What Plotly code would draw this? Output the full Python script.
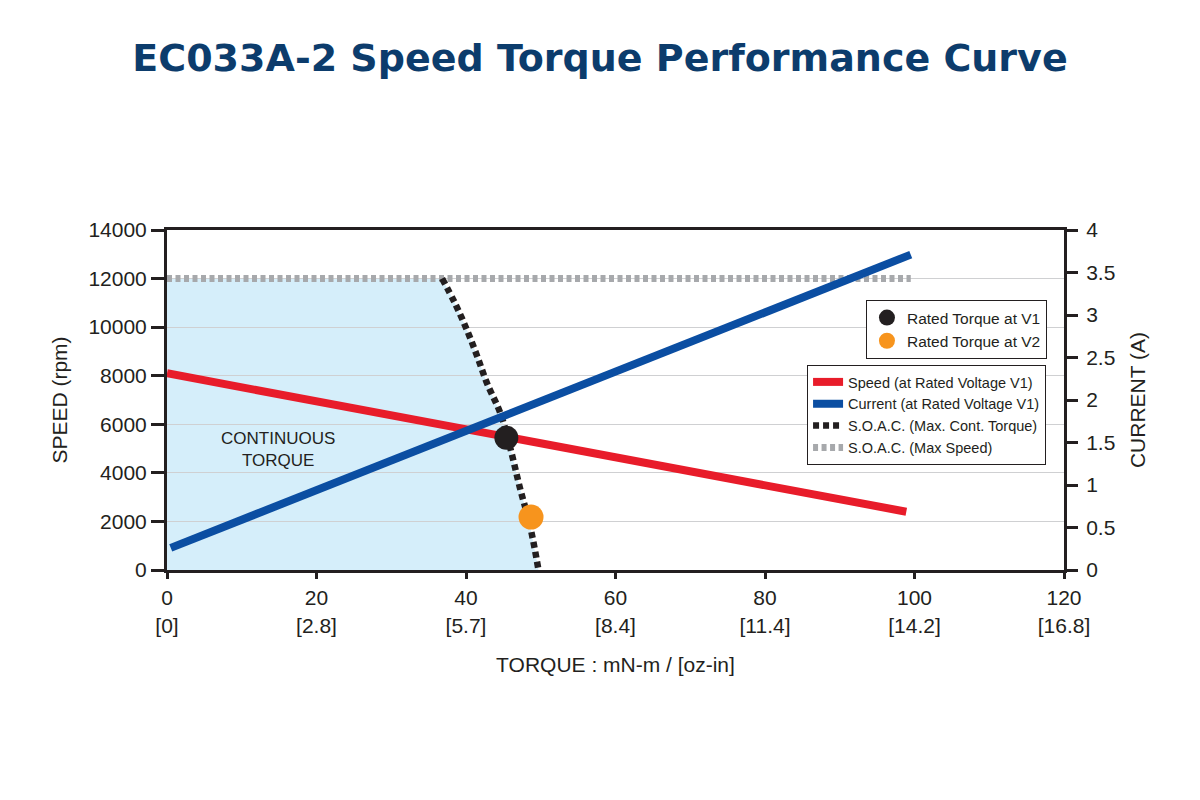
import plotly.graph_objects as go

# ---------------- data ----------------
torque_ticks = [0, 20, 40, 60, 80, 100, 120]
ozin_labels = ["0", "2.8", "5.7", "8.4", "11.4", "14.2", "16.8"]
speed_ticks = [0, 2000, 4000, 6000, 8000, 10000, 12000, 14000]
speed_tick_labels = ["0", "2000", "4000", "6000", "8000", "10000", "12000", "14000"]
current_ticks = [0, 0.5, 1, 1.5, 2, 2.5, 3, 3.5, 4]
current_tick_labels = ["0", "0.5", "1", "1.5", "2", "2.5", "3", "3.5", "4"]

speed_torque = [0, 98.9]
speed_rpm = [8100, 2400]

current_torque = [0.5, 99.5]
current_amp = [0.26, 3.71]

maxspeed_torque = [0, 99.5]
maxspeed_rpm = [12000, 12000]

soac_torque = [36.8, 38.5, 40.1, 41.5, 42.8, 44.6, 45.9, 47.2, 48.6, 49.7]
soac_rpm = [12000, 11000, 9900, 8800, 7700, 6450, 5050, 3400, 1770, 0]

rated_v1_torque = [45.4]
rated_v1_rpm = [5450]
rated_v2_torque = [48.7]
rated_v2_rpm = [2180]

region_label = "CONTINUOUS<br>TORQUE"
region_label_torque = 14.9
region_label_rpm = 4960

# ---------------- style ----------------
SANS = "Liberation Sans, Arial, Helvetica, sans-serif"
INK = "#231f20"
RED = "#e81c2a"
BLUE = "#0b4ea2"
GRAY = "#a7a9ac"
ORANGE = "#f7941d"
FILL = "#d5eefa"

fig = go.Figure()

# continuous torque region (below gridlines), built from the data arrays
path = "M 0,0 L 0,%g" % maxspeed_rpm[0]
for t, s in zip(soac_torque, soac_rpm):
    path += " L %g,%g" % (t, s)
path += " Z"
fig.add_shape(type="path", path=path, xref="x", yref="y",
              fillcolor=FILL, line=dict(width=0), layer="below")

fig.add_trace(go.Scatter(
    x=maxspeed_torque, y=maxspeed_rpm, mode="lines",
    name="S.O.A.C. (Max Speed)",
    line=dict(color=GRAY, width=7, dash="5px,3.5px"),
    legend="legend2", legendrank=4, yaxis="y"))

fig.add_trace(go.Scatter(
    x=speed_torque, y=speed_rpm, mode="lines",
    name="Speed (at Rated Voltage V1)",
    line=dict(color=RED, width=8),
    legend="legend2", legendrank=1, yaxis="y"))

fig.add_trace(go.Scatter(
    x=current_torque, y=current_amp, mode="lines",
    name="Current (at Rated Voltage V1)",
    line=dict(color=BLUE, width=8),
    legend="legend2", legendrank=2, yaxis="y2"))

fig.add_trace(go.Scatter(
    x=soac_torque, y=soac_rpm, mode="lines",
    name="S.O.A.C. (Max. Cont. Torque)",
    line=dict(color=INK, width=6.5, dash="6px,4px", shape="spline"),
    legend="legend2", legendrank=3, yaxis="y"))

fig.add_trace(go.Scatter(
    x=rated_v1_torque, y=rated_v1_rpm, mode="markers",
    name="Rated Torque at V1",
    marker=dict(color=INK, size=24),
    legend="legend", legendrank=1, yaxis="y"))

fig.add_trace(go.Scatter(
    x=rated_v2_torque, y=rated_v2_rpm, mode="markers",
    name="Rated Torque at V2",
    marker=dict(color=ORANGE, size=25),
    legend="legend", legendrank=2, yaxis="y"))

fig.add_annotation(x=region_label_torque, y=region_label_rpm, xref="x", yref="y",
                   text=region_label, showarrow=False,
                   font=dict(family=SANS, size=17, color=INK))

tickfont = dict(family=SANS, size=21, color=INK)
titlefont = dict(family=SANS, size=21, color=INK)

fig.update_layout(
    width=1200, height=800,
    margin=dict(l=167, r=136, t=230, b=230),
    paper_bgcolor="white", plot_bgcolor="white",
    title=dict(text="<b>EC033A-2 Speed Torque Performance Curve</b>",
               x=0.5, xanchor="center", y=1 - 58 / 800, yanchor="middle",
               font=dict(family="DejaVu Sans", size=38, color="#0c3c6c")),
    xaxis=dict(range=[0, 120], tickvals=torque_ticks,
               ticktext=["%g<br>[%s]" % (t, o) for t, o in zip(torque_ticks, ozin_labels)],
               ticks="outside", ticklen=6, tickwidth=2.5, tickcolor=INK,
               showline=True, linewidth=3, linecolor=INK, mirror=True,
               showgrid=False, zeroline=False, tickfont=tickfont,
               ticklabelstandoff=1,
               title=dict(text="TORQUE : mN-m / [oz-in]", standoff=22, font=titlefont)),
    xaxis2=dict(range=[0, 120], tickvals=torque_ticks, overlaying="x", anchor="y",
                side="bottom", ticks="inside", ticklen=9, tickwidth=2.5, tickcolor=INK,
                showticklabels=False, showgrid=False, zeroline=False, showline=False),
    yaxis=dict(range=[0, 14000], tickvals=speed_ticks, ticktext=speed_tick_labels,
               ticks="outside", ticklen=13, tickwidth=2.5, tickcolor=INK,
               showline=True, linewidth=3, linecolor=INK, mirror=True,
               showgrid=True, gridcolor="#cfd0d2", gridwidth=1,
               zeroline=False, tickfont=tickfont,
               title=dict(text="SPEED (rpm)", standoff=16, font=titlefont)),
    yaxis2=dict(range=[0, 4], tickvals=current_ticks, ticktext=current_tick_labels,
                overlaying="y", side="right", anchor="x",
                ticks="outside", ticklen=11, tickwidth=2.5, tickcolor=INK,
                showline=True, linewidth=3, linecolor=INK,
                showgrid=False, zeroline=False, tickfont=tickfont,
                ticklabelstandoff=4,
                title=dict(text="CURRENT (A)", standoff=16, font=titlefont)),
    yaxis3=dict(range=[0, 4], tickvals=current_ticks, overlaying="y", side="right",
                anchor="x", ticks="inside", ticklen=12, tickwidth=2.5, tickcolor=INK,
                showticklabels=False, showgrid=False, zeroline=False, showline=False),
    legend=dict(x=0.981, y=0.794, xanchor="right", yanchor="top",
                bgcolor="white", bordercolor=INK, borderwidth=1,
                font=dict(family=SANS, size=15.5, color=INK),
                itemsizing="trace", traceorder="normal"),
    legend2=dict(x=0.980, y=0.603, xanchor="right", yanchor="top",
                 bgcolor="white", bordercolor=INK, borderwidth=1,
                 font=dict(family=SANS, size=14.5, color=INK),
                 traceorder="normal", itemwidth=30),
    showlegend=True,
)

fig.write_html("out.html")
